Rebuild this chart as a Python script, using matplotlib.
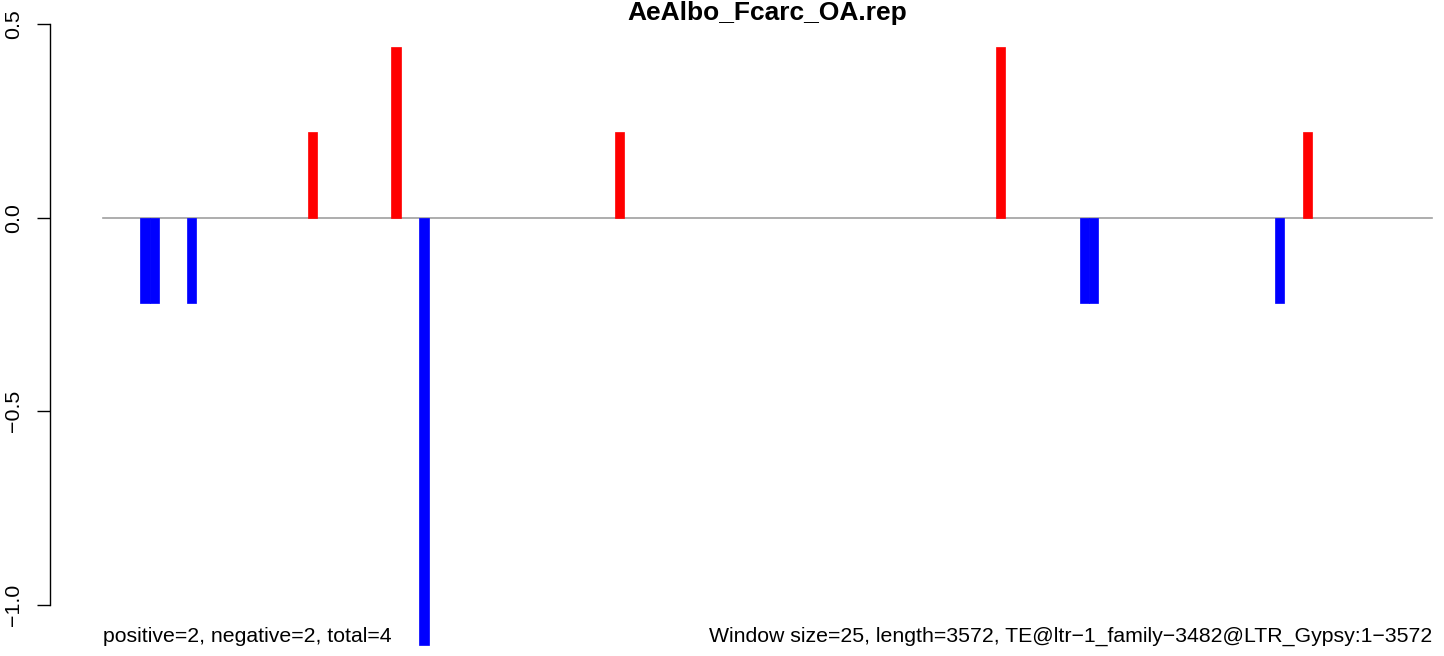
import matplotlib
matplotlib.use('Agg')
import matplotlib.pyplot as plt

# window start positions (bp) and scores, window size 25
win_size = 25
seq_len = 3572
win_start = [100, 125, 225, 550, 775, 850, 1375, 2400, 2625, 2650, 3150, 3225]
win_score = [-0.22, -0.22, -0.22, 0.22, 0.44, -1.104, 0.22, 0.44, -0.22, -0.22, -0.22, 0.22]
y_ticks = [-1.0, -0.5, 0.0, 0.5]
y_tick_labels = ['\u22121.0', '\u22120.5', '0.0', '0.5']

title = 'AeAlbo_Fcarc_OA.rep'
left_note = 'positive=2, negative=2, total=4'
right_note = 'Window size=25, length=3572, TE@ltr\u22121_family\u22123482@LTR_Gypsy:1\u22123572'

plt.rcParams['font.family'] = ['Liberation Sans', 'DejaVu Sans']

W, H = 1444, 656
fig = plt.figure(figsize=(W / 100, H / 100), dpi=100)
ax = fig.add_axes([50 / W, 0, (W - 50) / W, 1])

# pixel mapping
x_px0, x_scale = 103, 0.3721
y_px0, y_scale = 217.7, 387.3
ax.set_xlim(-(x_px0 - 50) / x_scale, seq_len + (W - 1432) / x_scale)
ax.set_ylim(-(H - y_px0) / y_scale, y_px0 / y_scale)

colors = ['red' if v > 0 else 'blue' for v in win_score]
ax.bar(win_start, win_score, width=win_size, align='edge', color=colors,
       edgecolor=colors, linewidth=0.5, zorder=3)
ax.plot([0, seq_len], [0, 0], color='#a0a0a0', lw=1.2, zorder=2)

for s in ['top', 'right', 'bottom']:
    ax.spines[s].set_visible(False)
ax.spines['left'].set_bounds(-1.0, 0.5)
ax.spines['left'].set_linewidth(1.0)
ax.set_xticks([])
ax.set_yticks(y_ticks)
ax.set_yticklabels(y_tick_labels, rotation=90, va='center', fontsize=15.4)
ax.tick_params(axis='y', direction='out', length=9.4, width=1.0, pad=10)

ax.text(0, -1.095, left_note, ha='left', va='baseline', fontsize=15.3)
ax.text(seq_len, -1.095, right_note, ha='right', va='baseline', fontsize=15.3)

fig.text(767 / W, 1 - 20 / H, title, ha='center', va='baseline',
         fontsize=19, fontweight='bold')

fig.savefig('out.png', dpi=100)
